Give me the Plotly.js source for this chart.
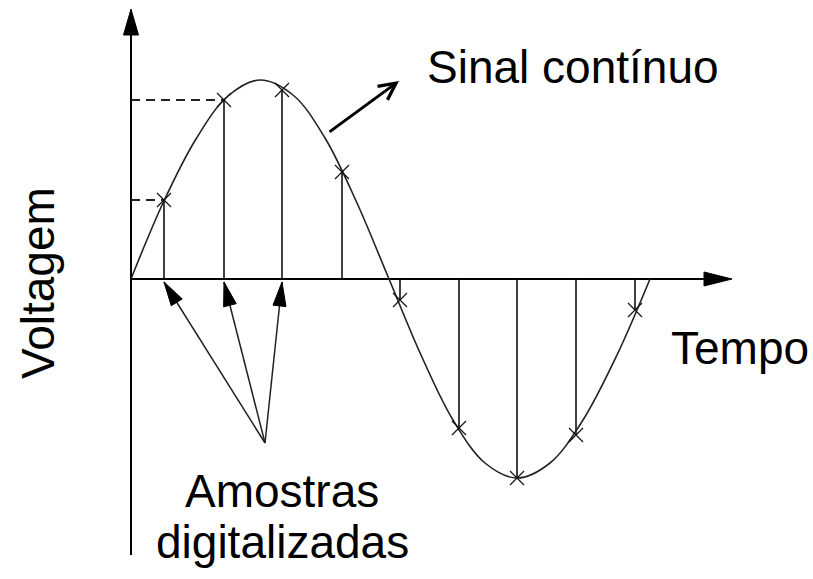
<!DOCTYPE html>
<html>
<head>
<meta charset="utf-8">
<script src="https://cdn.plot.ly/plotly-3.0.1.min.js"></script>
<style>html,body{margin:0;padding:0;background:#fff;}#chart{width:813px;height:579px;}</style>
</head>
<body>
<div id="chart"></div>
<script>
// ---- data (time units / voltage units) ----
var curveT = [0, 32, 65, 97, 129, 162, 194, 226, 258, 290, 322, 354, 386, 419, 452, 486, 519];
var curveV = [0, 76, 140, 183, 199, 184, 141, 76, 0, -76, -141, -184, -199, -184, -141, -76, 0];

var sampleT = [33, 93, 151, 211, 269, 328, 386, 445, 504];
var sampleV = [79, 179, 189, 107, -21, -149, -199, -156, -31];

var guideIdx = [0, 1];          // samples with dashed level guides
var pointedIdx = [0, 1, 2];     // samples pointed by "Amostras digitalizadas"
var pointerFrom = {t: 134, v: -164};

var axisTimeEnd = 601, axisVoltTop = 270, axisVoltBottom = -276;

var labels = {
  signal: 'Sinal contínuo',
  time: 'Tempo',
  volt: 'Voltagem',
  samples1: 'Amostras',
  samples2: 'digitalizadas'
};

// ---- build traces ----
var stemX = [], stemY = [];
sampleT.forEach(function (t, i) { stemX.push(t, t, null); stemY.push(0, sampleV[i], null); });

var guideX = [], guideY = [];
guideIdx.forEach(function (i) { guideX.push(0, sampleT[i], null); guideY.push(sampleV[i], sampleV[i], null); });

var ptrX = [], ptrY = [];
pointedIdx.forEach(function (i) {
  ptrX.push(pointerFrom.t, sampleT[i], null);
  ptrY.push(pointerFrom.v, -3, null);
});

// filled arrow head (axis units are 1:1 with pixels here)
function headPath(x0, y0, x1, y1, len, hw) {
  var dx = x1 - x0, dy = y1 - y0, d = Math.sqrt(dx * dx + dy * dy);
  var ux = dx / d, uy = dy / d, px = -uy, py = ux;
  var bx = x1 - ux * len, by = y1 - uy * len;
  return 'M' + x1 + ',' + y1 +
    ' L' + (bx + px * hw) + ',' + (by + py * hw) +
    ' L' + (bx - px * hw) + ',' + (by - py * hw) + ' Z';
}

var black = '#000';
var shapes = [];
function addHead(x0, y0, x1, y1, len, hw) {
  shapes.push({type: 'path', xref: 'x', yref: 'y', path: headPath(x0, y0, x1, y1, len, hw),
    fillcolor: black, line: {color: black, width: 1}, layer: 'above'});
}
addHead(0, 0, 0, axisVoltTop, 26, 7.5);
addHead(0, 0, axisTimeEnd, 0, 28, 7);
pointedIdx.forEach(function (i) { addHead(pointerFrom.t, pointerFrom.v, sampleT[i], -3, 24, 6.5); });

var traces = [
  {x: [0, 0], y: [axisVoltBottom, axisVoltTop - 10], mode: 'lines', line: {color: black, width: 2}, hoverinfo: 'skip'},
  {x: [0, axisTimeEnd - 10], y: [0, 0], mode: 'lines', line: {color: black, width: 2}, hoverinfo: 'skip'},
  {x: guideX, y: guideY, mode: 'lines', line: {color: '#222', width: 2, dash: '9px,6px'}, hoverinfo: 'skip'},
  {x: stemX, y: stemY, mode: 'lines', line: {color: '#111', width: 1.6}, hoverinfo: 'skip'},
  {x: curveT, y: curveV, mode: 'lines', line: {color: '#222', width: 1.6, shape: 'spline', smoothing: 1}, hoverinfo: 'skip'},
  {x: sampleT, y: sampleV, mode: 'markers', marker: {symbol: 'x-thin-open', size: 14, color: '#111', line: {color: '#111', width: 1.2}}, hoverinfo: 'skip'},
  {x: ptrX, y: ptrY, mode: 'lines', line: {color: '#222', width: 1.5}, hoverinfo: 'skip'}
];

var font = {family: 'Liberation Sans, Arial, sans-serif', color: black, size: 46};
var layout = {
  width: 813, height: 579,
  margin: {l: 0, r: 0, t: 0, b: 0},
  paper_bgcolor: '#fff', plot_bgcolor: '#fff',
  showlegend: false,
  xaxis: {range: [-131, 682], visible: false, fixedrange: true},
  yaxis: {range: [-300, 279], visible: false, fixedrange: true},
  shapes: shapes,
  annotations: [
    {x: 268, y: 198, ax: 197, ay: 146, axref: 'x', ayref: 'y', xref: 'x', yref: 'y', text: '',
     showarrow: true, arrowhead: 5, arrowwidth: 3, arrowsize: 1.1, arrowcolor: black},
    {x: 442, y: 212, xref: 'x', yref: 'y', text: labels.signal, showarrow: false, font: font, xanchor: 'center', yanchor: 'middle'},
    {x: 609, y: -69, xref: 'x', yref: 'y', text: labels.time, showarrow: false, font: font, xanchor: 'center', yanchor: 'middle'},
    {x: -93, y: -4, xref: 'x', yref: 'y', text: labels.volt, showarrow: false, font: font, textangle: -90, xanchor: 'center', yanchor: 'middle'},
    {x: 151, y: -212, xref: 'x', yref: 'y', text: labels.samples1, showarrow: false, font: font, xanchor: 'center', yanchor: 'middle'},
    {x: 151, y: -263, xref: 'x', yref: 'y', text: labels.samples2, showarrow: false, font: font, xanchor: 'center', yanchor: 'middle'}
  ]
};

Plotly.newPlot('chart', traces, layout, {staticPlot: true, displayModeBar: false});
</script>
</body>
</html>
